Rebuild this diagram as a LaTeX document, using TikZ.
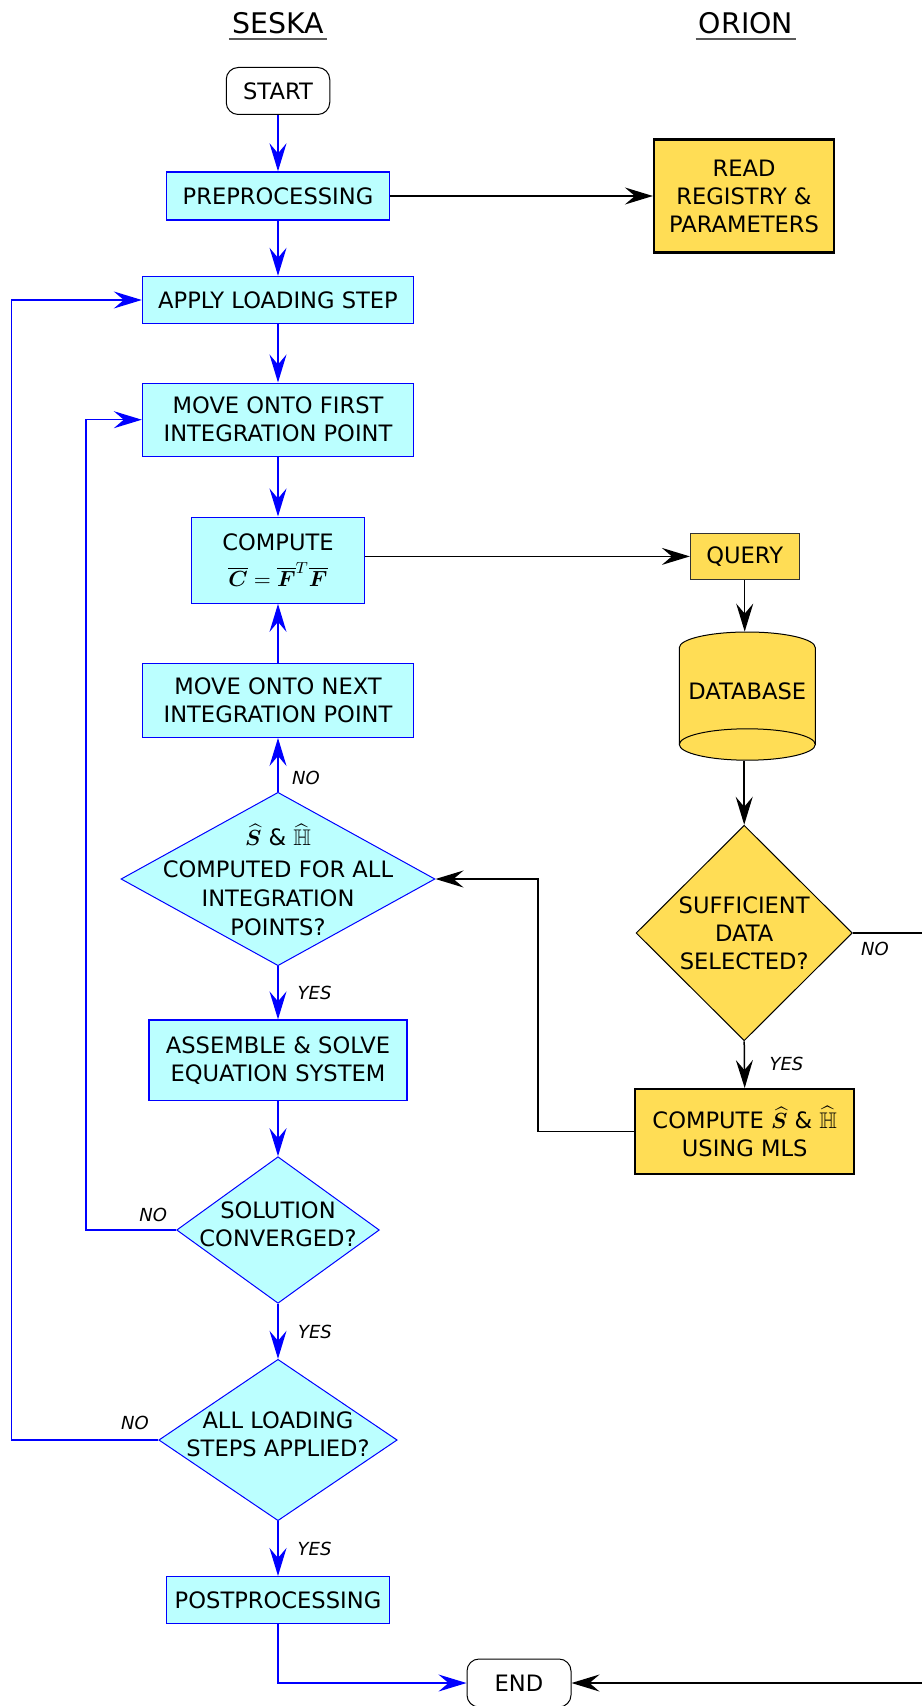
\documentclass[tikz,border=0pt]{standalone}
\usepackage{fontspec}
\setmainfont{DejaVu Sans}
\usepackage{amsmath,amssymb,bm}
\usetikzlibrary{shapes.geometric,arrows.meta,calc}
\definecolor{cyanfill}{RGB}{187,255,255}
\definecolor{yelfill}{RGB}{255,221,85}
\definecolor{flowblue}{RGB}{0,0,255}

\begin{document}
\begin{tikzpicture}[x=0.5pt,y=0.5pt,
  txt/.style={font=\fontsize{11.3}{14}\selectfont, align=center},
  procbox/.style={txt, rectangle, draw=flowblue, fill=cyanfill, line width=0.7pt, inner sep=0pt},
  termbox/.style={txt, rectangle, rounded corners=6pt, draw=black, fill=white, line width=0.5pt, inner sep=0pt},
  orbox/.style={txt, rectangle, draw=black, fill=yelfill, line width=1.1pt, inner sep=0pt},
  decblue/.style={diamond, draw=flowblue, fill=cyanfill, line width=0.5pt, inner sep=0pt},
  decyel/.style={diamond, draw=black, fill=yelfill, line width=0.5pt, inner sep=0pt},
  lbl/.style={font=\fontsize{9}{10}\selectfont\itshape, inner sep=0pt},
  tip/.style={-{Stealth[length=14pt,width=8.5pt,inset=5pt]}},
  bflow/.style={draw=flowblue, line width=0.65pt, tip},
  kflow/.style={draw=black, line width=0.75pt, tip},
  title/.style={font=\fontsize{14.2}{16}\selectfont, inner sep=0pt, anchor=base},
  uline/.style={line width=0.75pt, black!65}
]
\useasboundingbox (0,0) rectangle (921,-1706);

% column titles
\node[title] (seska) at (278,-33.3) {SESKA};
\node[title] (orion) at (746,-33.3) {ORION};
\draw[uline] ([xshift=-1.5pt,yshift=-2.85pt]seska.base west) -- ([xshift=1.5pt,yshift=-2.85pt]seska.base east);
\draw[uline] ([xshift=-1.5pt,yshift=-2.85pt]orion.base west) -- ([xshift=1.5pt,yshift=-2.85pt]orion.base east);

% SESKA column
\node[termbox, minimum width=51.75pt, minimum height=23.5pt] (start) at (278,-91) {START};
\node[procbox, minimum width=111.5pt, minimum height=24pt] (prep) at (278,-196) {PREPROCESSING};
\node[procbox, minimum width=135.5pt, minimum height=23.5pt] (apply) at (278,-300) {APPLY LOADING STEP};
\node[procbox, minimum width=135.5pt, minimum height=36.5pt] (mfirst) at (278,-419.7) {MOVE ONTO FIRST\\INTEGRATION POINT};
\node[procbox, minimum width=86.5pt, minimum height=43pt] (comp) at (278,-560.2) {COMPUTE\\[4pt]$\overline{\bm C}=\overline{\bm F}^{T}\overline{\bm F}$};
\node[procbox, minimum width=135.5pt, minimum height=37pt] (mnext) at (278,-700.3) {MOVE ONTO NEXT\\INTEGRATION POINT};
\node[decblue, minimum width=157pt, minimum height=86.7pt] (d1) at (278,-879) {};
\node[txt, font=\fontsize{11.3}{14.6}\selectfont] (d1t) at (278,-880) {$\widehat{\bm S}$ \& $\widehat{\mathbb H}$\\[1.2pt]COMPUTED FOR ALL\\INTEGRATION\\POINTS?};
\node[procbox, minimum width=129pt, minimum height=40.3pt] (asm) at (278,-1060.4) {ASSEMBLE \& SOLVE\\EQUATION SYSTEM};
\node[decblue, minimum width=101.35pt, minimum height=73.3pt] (d2) at (278,-1230) {};
\node[txt] (d2t) at (278,-1224) {SOLUTION\\CONVERGED?};
\node[decblue, minimum width=119.2pt, minimum height=80.7pt] (d3) at (278,-1440) {};
\node[txt] (d3t) at (278,-1434) {ALL LOADING\\STEPS APPLIED?};
\node[procbox, minimum width=111.5pt, minimum height=23.35pt] (post) at (278,-1600) {POSTPROCESSING};
\node[termbox, minimum width=52pt, minimum height=24pt] (fin) at (519,-1683) {END};

% ORION column
\node[orbox, minimum width=90pt, minimum height=56.5pt] (read) at (744,-196) {READ\\REGISTRY \&\\PARAMETERS};
\node[orbox, line width=0.5pt, draw=black!80, minimum width=54.35pt, minimum height=23.25pt] (query) at (744.7,-556.4) {QUERY};
% database cylinder
\filldraw[fill=yelfill, draw=black, line width=0.5pt]
  (679.3,-647.7) arc[start angle=180, end angle=0, x radius=34pt, y radius=7.85pt]
  -- (815.3,-744.5) arc[start angle=0, end angle=-180, x radius=34pt, y radius=7.85pt] -- cycle;
\draw[black, line width=0.5pt] (679.3,-744.5) arc[start angle=180, end angle=0, x radius=34pt, y radius=7.85pt];
\node[inner sep=0pt, minimum width=68pt, minimum height=64.1pt] (db) at (747.3,-696.1) {};
\node[txt] (dbt) at (747.3,-691.6) {DATABASE};
\node[decyel, minimum width=108.15pt, minimum height=107.75pt] (suff) at (744.2,-933) {};
\node[txt] (sufft) at (744.2,-933) {SUFFICIENT\\DATA\\SELECTED?};
\node[orbox, line width=1pt, minimum width=109.65pt, minimum height=42.65pt] (mls) at (744.7,-1131.7) {COMPUTE $\widehat{\bm S}$ \& $\widehat{\mathbb H}$\\USING MLS};

% branch labels
\node[lbl] (no1) at (306,-778.4) {NO};
\node[lbl] (yes1) at (314.6,-993) {YES};
\node[lbl] (no2) at (153.3,-1215) {NO};
\node[lbl] (yes2) at (315,-1331.7) {YES};
\node[lbl] (no3) at (135,-1423.3) {NO};
\node[lbl] (yes3) at (314.6,-1549) {YES};
\node[lbl] (no4) at (875,-948.5) {NO};
\node[lbl] (yes4) at (786.5,-1064) {YES};

% joints of the loop-back lines
\coordinate (j1) at (537.8,-879);
\coordinate (j2) at (86,-419.7);
\coordinate (j3) at (11.7,-300);
\coordinate (j4) at (960,-933);
\coordinate (j5) at (960,-1683);

% SESKA flow
\draw[bflow] (start) -- (prep);
\draw[bflow] (prep) -- (apply);
\draw[bflow] (apply) -- (mfirst);
\draw[bflow] (mfirst) -- (comp);
\draw[bflow] (mnext) -- (comp);
\draw[bflow] (d1) -- (mnext);
\draw[bflow] (d1) -- (asm);
\draw[bflow] (asm) -- (d2);
\draw[bflow] (d2) -- (d3);
\draw[bflow] (d3) -- (post);
\draw[bflow] (post.south) |- (fin.west);
\draw[bflow] (d2.west) -| (j2) -- (mfirst.west);
\draw[bflow] (d3.west) -| (j3) -- (apply.west);

% ORION flow
\draw[kflow] (prep.east) -- (read.west);
\draw[kflow] (query.west -| comp.east) -- (query.west);
\draw[kflow] (query.south) -- (query.south |- db.north);
\draw[kflow] (suff.north |- db.south) -- (suff.north);
\draw[kflow] (suff.south) -- (mls.north);
\draw[kflow] (mls.west) -| (j1) -- (d1.east);
\draw[kflow] (suff.east) -- (j4) -- (j5) -- (fin.east);
\end{tikzpicture}
\end{document}
